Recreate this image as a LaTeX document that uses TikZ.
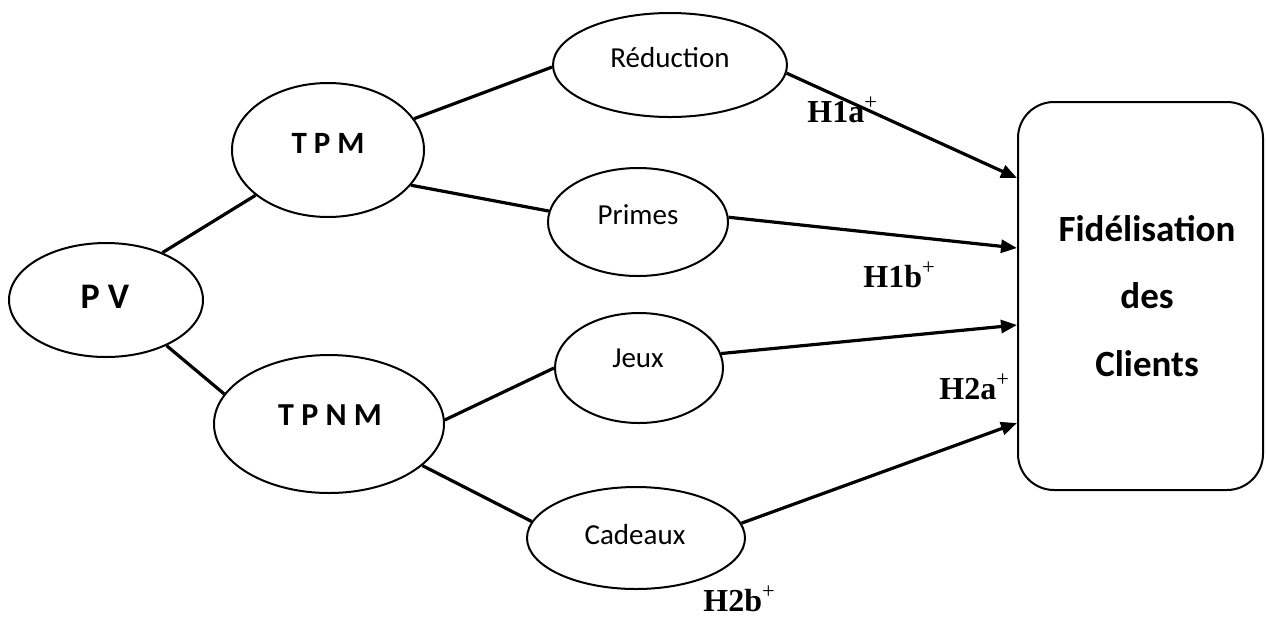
\documentclass[tikz,border=0pt]{standalone}
\usepackage{fontspec}
\setmainfont{Carlito}
\newfontfamily\timesf{Liberation Serif}
\usetikzlibrary{shapes.geometric,arrows.meta}
\begin{document}
\begin{tikzpicture}[x=0.5pt,y=-0.5pt,
 oval/.style={draw, ellipse, line width=1pt, inner sep=0pt},
 link/.style={line width=1.6pt},
 arr/.style={line width=1.6pt, -{Triangle[length=8pt,width=6.5pt]}},
 small/.style={font=\fontsize{14.5}{17}\selectfont, inner sep=0pt},
 big/.style={font=\bfseries\fontsize{15.5}{18}\selectfont, inner sep=0pt},
 hyp/.style={anchor=west, font=\timesf\bfseries\fontsize{16}{18}\selectfont, inner sep=0pt}]
\useasboundingbox (0,0) rectangle (1266,618);

% ellipses
\node[oval, minimum width=97pt, minimum height=57pt] (pv) at (106,300) {};
\node[oval, minimum width=96pt, minimum height=67pt] (tpm) at (328,150) {};
\node[oval, minimum width=115pt, minimum height=69pt] (tpnm) at (329,424) {};
\node[oval, minimum width=117pt, minimum height=52pt] (red) at (670,65) {};
\node[oval, minimum width=90pt, minimum height=54pt] (pri) at (638,222) {};
\node[oval, minimum width=84pt, minimum height=55pt] (jeu) at (639,368) {};
\node[oval, minimum width=109pt, minimum height=51pt] (cad) at (636,538) {};

% texts in ellipses
\node[big, font=\bfseries\fontsize{18}{20}\selectfont] (pvt) at (105,297) {P V};
\node[big] (tpmt) at (328,143) {T P M};
\node[big, font=\bfseries\fontsize{16}{18}\selectfont] (tpnmt) at (330,415) {T P N M};
\node[small] (redt) at (670,58) {Réduction};
\node[small] (prit) at (638,215) {Primes};
\node[small] (jeut) at (638,358) {Jeux};
\node[small] (cadt) at (635,535) {Cadeaux};

% box
\node[draw, line width=1pt, rounded corners=18pt, minimum width=122.5pt, minimum height=194pt, inner sep=0pt] (box) at (1140.5,296) {};
\node[font=\bfseries\fontsize{18.5}{33.75}\selectfont, align=center] (boxt) at (1147,296) {Fidélisation\\des\\Clients};

% links
\draw[link] (pv.40.7) -- (tpm.212.6);
\draw[link] (pv.-37) -- (tpnm.164.8);
\draw[link] (tpm.20) -- (red.181.5);
\draw[link] (tpm.-23.6) -- (pri.173.4);
\draw[link] (tpnm.2) -- (jeu.180);
\draw[link] (tpnm.-24.8) -- (cad.171);

% arrows
\draw[arr] (red.-4) -- ([yshift=59pt]box.west);
\draw[arr] (pri.3) -- ([yshift=24pt]box.west);
\draw[arr] (jeu.10) -- ([yshift=-14.5pt]box.west);
\draw[arr] (cad.8) -- ([yshift=-63.5pt]box.west);

% hypothesis labels
\node[hyp] (h1a) at (807,110) {H1a\textsuperscript{\mdseries +}};
\node[hyp] (h1b) at (863,275) {H1b\textsuperscript{\mdseries +}};
\node[hyp] (h2a) at (939,387) {H2a\textsuperscript{\mdseries +}};
\node[hyp] (h2b) at (703,599) {H2b\textsuperscript{\mdseries +}};
\end{tikzpicture}
\end{document}
